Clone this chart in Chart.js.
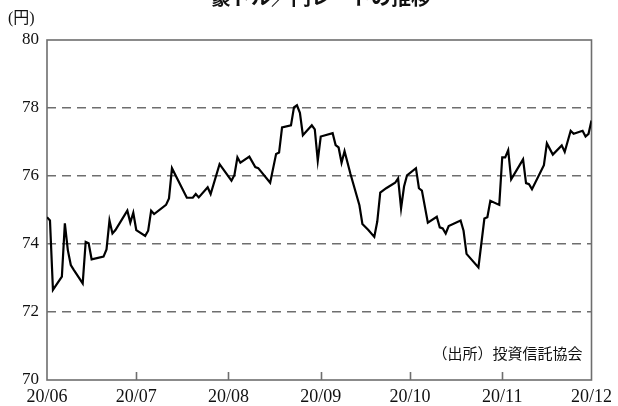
<!DOCTYPE html>
<html lang="ja">
<head>
<meta charset="UTF-8">
<title>豪ドル／円レートの推移</title>
<script src="https://cdn.jsdelivr.net/npm/chart.js@4/dist/chart.umd.min.js"></script>
<style>
    html, body { margin: 0; padding: 0; background: #fff; }
    #chartWrap { width: 618px; height: 406px; }
</style>
</head>
<body>
<div id="chartWrap"><canvas id="rateChart" width="618" height="406"></canvas></div>
<script>
// 2020/06/01 からの日数と、その日の豪ドル／円レート
const dayOffsets = [
    0, 1, 2, 5, 6, 7, 8, 9, 12, 13, 14, 15, 19, 20, 21, 22, 23, 27, 28, 29,
    30, 33, 34, 35, 36, 40, 41, 42, 47, 49, 50, 51, 54, 55, 58, 62, 63, 64, 65, 68,
    70, 71, 75, 77, 78, 79, 82, 83, 84, 85, 86, 89, 90, 91, 92, 96, 97, 98, 99, 100,
    102, 105, 106, 108, 110, 111, 112, 114, 117, 118, 119, 120, 121, 124, 125, 126, 128, 131, 132, 133,
    134, 135, 139, 140, 141, 145, 147, 148, 149, 152, 153, 154, 155, 156, 160, 161, 162, 163, 167, 168,
    170, 173, 174, 176, 177, 180, 181, 182, 183
];
const rates = [
    74.79, 74.69, 72.65, 73.04, 74.61, 73.82, 73.38, 73.24, 72.84, 74.06, 74.02, 73.55, 73.63, 73.84, 74.69, 74.31, 74.41, 74.98, 74.63, 74.92,
    74.41, 74.24, 74.39, 74.98, 74.88, 75.15, 75.34, 76.23, 75.36, 75.36, 75.47, 75.37, 75.67, 75.47, 76.35, 75.86, 76.03, 76.55, 76.39, 76.57,
    76.26, 76.23, 75.80, 76.65, 76.69, 77.43, 77.49, 78.02, 78.08, 77.86, 77.20, 77.49, 77.37, 76.45, 77.16, 77.26, 76.91, 76.84, 76.39, 76.73,
    76.06, 75.14, 74.59, 74.41, 74.21, 74.66, 75.51, 75.64, 75.80, 75.93, 75.05, 75.69, 76.02, 76.23, 75.64, 75.57, 74.63, 74.80, 74.49, 74.46,
    74.31, 74.53, 74.69, 74.39, 73.71, 73.31, 74.75, 74.79, 75.27, 75.15, 76.55, 76.55, 76.76, 75.90, 76.49, 75.79, 75.76, 75.61, 76.32, 76.96,
    76.63, 76.90, 76.71, 77.33, 77.24, 77.33, 77.16, 77.24, 77.63
];

// 月初の位置と目盛りラベル
const monthTicks = [0, 30, 61, 92, 122, 153, 183];
const monthLabels = ['20/06', '20/07', '20/08', '20/09', '20/10', '20/11', '20/12'];

const yMin = 70;
const yMax = 80;
const yStep = 2;

const titleText = '豪ドル／円レートの推移';
const unitText = '(円)';
const sourceText = '（出所）投資信託協会';

document.addEventListener('DOMContentLoaded', function () {
    const serif = "'Liberation Serif', 'Noto Sans CJK JP', serif";
    const ctx = document.getElementById('rateChart');

    const points = dayOffsets.map((d, i) => ({ x: d, y: rates[i] }));

    // 枠線・内向きの目盛り・タイトル類
    const decorations = {
        id: 'decorations',
        beforeDatasetsDraw(chart) {
            const c = chart.ctx;
            const area = chart.chartArea;
            const xScale = chart.scales.x;
            c.save();
            c.strokeStyle = '#6e6e6e';
            c.lineWidth = 1.6;
            c.strokeRect(area.left, area.top, area.right - area.left, area.bottom - area.top);
            c.beginPath();
            monthTicks.slice(1, -1).forEach(v => {
                const px = Math.round(xScale.getPixelForValue(v)) + 0.5;
                c.moveTo(px, area.bottom);
                c.lineTo(px, area.bottom - 8);
            });
            c.stroke();
            c.restore();
        },
        afterDraw(chart) {
            const c = chart.ctx;
            const area = chart.chartArea;
            c.save();
            c.fillStyle = '#111';
            c.font = "bold 20px 'Noto Sans CJK JP', sans-serif";
            c.textAlign = 'center';
            c.textBaseline = 'middle';
            c.fillText(titleText, 321, -3);

            c.font = '16px ' + serif;
            c.textAlign = 'left';
            c.fillText(unitText, 8, 19);

            c.font = "15px 'Noto Sans CJK JP', sans-serif";
            c.textAlign = 'right';
            c.fillText(sourceText, area.right - 9, 353);
            c.restore();
        }
    };

    new Chart(ctx, {
        type: 'line',
        data: {
            datasets: [{
                label: '豪ドル／円',
                data: points,
                borderColor: '#000',
                borderWidth: 2.2,
                pointRadius: 0,
                tension: 0,
                fill: false
            }]
        },
        options: {
            responsive: false,
            animation: false,
            devicePixelRatio: 1,
            layout: { padding: { left: 0, right: 24, top: 40, bottom: 0 } },
            plugins: {
                legend: { display: false },
                title: { display: false },
                tooltip: { enabled: false }
            },
            scales: {
                x: {
                    type: 'linear',
                    min: monthTicks[0],
                    max: monthTicks[monthTicks.length - 1],
                    afterBuildTicks: scale => {
                        scale.ticks = monthTicks.map(v => ({ value: v }));
                    },
                    afterFit: scale => { scale.height = 26; },
                    grid: { display: false, drawTicks: false },
                    border: { display: false },
                    ticks: {
                        autoSkip: false,
                        maxRotation: 0,
                        padding: 6,
                        color: '#111',
                        font: { family: serif, size: 18 },
                        callback: value => monthLabels[monthTicks.indexOf(value)]
                    }
                },
                y: {
                    min: yMin,
                    max: yMax,
                    afterFit: scale => { scale.width = 47; },
                    grid: {
                        color: ctx => (ctx.tick.value === yMin || ctx.tick.value === yMax) ? 'rgba(0,0,0,0)' : '#6e6e6e',
                        lineWidth: 1.5,
                        drawTicks: false
                    },
                    border: { display: false, dash: [9, 6] },
                    ticks: {
                        stepSize: yStep,
                        padding: 8,
                        color: '#111',
                        font: { family: serif, size: 17 }
                    }
                }
            }
        },
        plugins: [decorations]
    });
});
</script>
</body>
</html>
